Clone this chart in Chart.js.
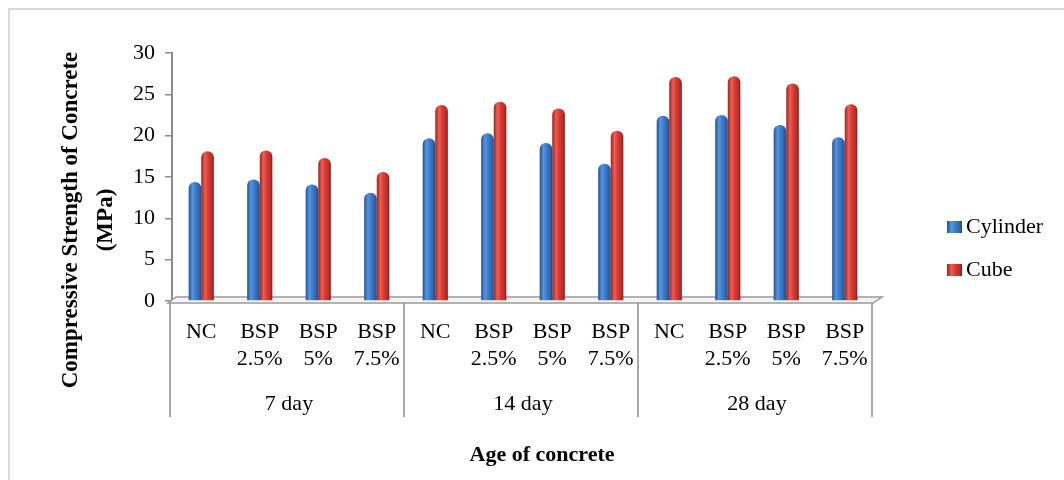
<!DOCTYPE html>
<html>
<head>
<meta charset="utf-8">
<script src="https://cdn.jsdelivr.net/npm/chart.js@4.4.1/dist/chart.umd.min.js"></script>
<style>
  html, body { margin: 0; padding: 0; background: #fff; }
  #wrap { width: 1064px; height: 480px; }
</style>
</head>
<body>
<div id="wrap"><canvas id="chart" width="1064" height="480"></canvas></div>
<script>
const ages      = ['7 day', '14 day', '28 day'];
const mixLabels = [['NC'], ['BSP', '2.5%'], ['BSP', '5%'], ['BSP', '7.5%']];
const cylinder  = [14.4, 14.7, 14.1, 13.1, 19.7, 20.3, 19.1, 16.6, 22.4, 22.5, 21.3, 19.8];
const cube      = [18.1, 18.2, 17.3, 15.6, 23.7, 24.1, 23.3, 20.6, 27.1, 27.2, 26.3, 23.8];
const yTicks    = [0, 5, 10, 15, 20, 25, 30];

const serif = "'Liberation Serif', 'Times New Roman', serif";
const axisGray = '#8c8c8c';

const shades = {
  Cylinder: ['#24528f', '#5595e0', '#3d7cca', '#2d63a8', '#1f4678'],
  Cube:     ['#9a2320', '#ee5e52', '#d83b35', '#b82c28', '#801a18'],
};

function shadeFill(ctx, x0, x1, cols) {
  const g = ctx.createLinearGradient(x0, 0, x1, 0);
  g.addColorStop(0, cols[0]);
  g.addColorStop(0.3, cols[1]);
  g.addColorStop(0.55, cols[2]);
  g.addColorStop(0.85, cols[3]);
  g.addColorStop(1, cols[4]);
  return g;
}

const deco = {
  id: 'deco',
  beforeDraw(chart) {
    const c = chart.ctx;
    c.save();
    c.strokeStyle = '#d9d9d9';
    c.lineWidth = 2;
    c.beginPath();
    c.moveTo(9, 480); c.lineTo(9, 9); c.lineTo(1064, 9);
    c.stroke();
    c.restore();
  },
  beforeDatasetsDraw(chart) {
    const c = chart.ctx;
    const a = chart.chartArea;
    const y0 = chart.scales.y.getPixelForValue(0);
    // floor
    c.save();
    c.fillStyle = '#f4f4f4';
    c.strokeStyle = '#9a9a9a';
    c.lineWidth = 1.5;
    c.beginPath();
    c.moveTo(a.left - 4, y0 + 2);
    c.lineTo(a.right - 1, y0 + 2);
    c.lineTo(a.right + 8, y0 - 4);
    c.lineTo(a.left + 4, y0 - 4);
    c.closePath();
    c.fill(); c.stroke();
    c.restore();
    // cylinder shading per bar
    chart.data.datasets.forEach((ds, i) => {
      const meta = chart.getDatasetMeta(i);
      meta.data.forEach(bar => {
        const g = shadeFill(c, bar.x - bar.width / 2, bar.x + bar.width / 2, shades[ds.label]);
        bar.options = Object.assign({}, bar.options, { backgroundColor: g });
      });
    });
  },
  afterDraw(chart) {
    const c = chart.ctx;
    const a = chart.chartArea;
    const y0 = chart.scales.y.getPixelForValue(0);
    const per = mixLabels.length;
    const step = (a.right - a.left) / cylinder.length;
    c.save();
    // group separators
    c.strokeStyle = axisGray;
    c.lineWidth = 1.5;
    for (let g = 0; g <= ages.length; g++) {
      const px = Math.round(a.left + g * per * step) - 2;
      c.beginPath();
      c.moveTo(px, y0 + 2);
      c.lineTo(px, 417);
      c.stroke();
    }
    // axis titles
    c.fillStyle = '#000';
    c.textAlign = 'center';
    c.textBaseline = 'middle';
    c.font = 'bold 22px ' + serif;
    c.fillText('Age of concrete', 542, 455);
    c.font = 'bold 23px ' + serif;
    c.translate(0, 220);
    c.rotate(-Math.PI / 2);
    c.fillText('Compressive Strength of Concrete', 0, 71);
    c.fillText('(MPa)', 0, 106);
    c.restore();
    // legend
    c.save();
    c.font = '22px ' + serif;
    c.textBaseline = 'middle';
    c.textAlign = 'left';
    chart.data.datasets.forEach((ds, i) => {
      const ly = 227 + i * 43;
      c.fillStyle = shadeFill(c, 947, 962, shades[ds.label]);
      c.fillRect(947, ly - 6, 15, 12);
      c.fillStyle = '#000';
      c.fillText(ds.label, 966, ly);
    });
    c.restore();
  }
};

const labels = ages.flatMap(() => mixLabels);

new Chart(document.getElementById('chart'), {
  type: 'bar',
  data: {
    labels: labels,
    datasets: [
      { label: 'Cylinder', data: cylinder, backgroundColor: '#3d7cca', borderRadius: { topLeft: 6, topRight: 6 }, borderSkipped: 'start', categoryPercentage: 0.43, barPercentage: 1.0 },
      { label: 'Cube',     data: cube,     backgroundColor: '#d83b35', borderRadius: { topLeft: 6, topRight: 6 }, borderSkipped: 'start', categoryPercentage: 0.43, barPercentage: 1.0 }
    ]
  },
  options: {
    responsive: false, animation: false,
    layout: { padding: { left: 0, right: 190, top: 53, bottom: 0 } },
    plugins: { legend: { display: false }, tooltip: { enabled: false } },
    scales: {
      x: {
        weight: 0,
        grid: { display: false, drawTicks: false },
        border: { display: false },
        ticks: { color: '#000', padding: 18, maxRotation: 0, autoSkip: false, font: { family: serif, size: 22, lineHeight: 1.227 } },
        afterFit: s => { s.height = 86; }
      },
      x2: {
        type: 'category', position: 'bottom', weight: 1, offset: true,
        labels: ages,
        grid: { display: false, drawTicks: false },
        border: { display: false },
        ticks: { color: '#000', padding: 4, maxRotation: 0, font: { family: serif, size: 22, lineHeight: 1.227 } },
        afterFit: s => { s.height = 93; }
      },
      y: {
        min: 0, max: 30,
        afterBuildTicks: s => { s.ticks = yTicks.map(v => ({ value: v })); },
        grid: { drawOnChartArea: false, drawTicks: true, tickLength: 7, color: axisGray, lineWidth: 1.5 },
        border: { display: true, color: axisGray, width: 2 },
        ticks: { color: '#000', padding: 10, font: { family: serif, size: 22 } },
        afterFit: s => { s.width = 172; }
      }
    }
  },
  plugins: [deco]
});
</script>
</body>
</html>
